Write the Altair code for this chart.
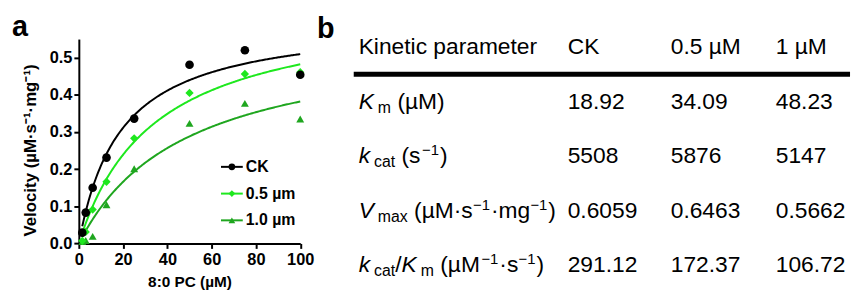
import altair as alt
import pandas as pd

# ---------------- data (panel a) ----------------
substrate = [1.5625, 3.125, 6.25, 12.5, 25, 50, 75, 100]
v_ck = [0.029, 0.083, 0.150, 0.231, 0.336, 0.481, 0.520, 0.454]
v_05 = [0.007, 0.031, 0.091, 0.166, 0.283, 0.405, 0.456, 0.461]
v_10 = [0.005, 0.008, 0.019, 0.104, 0.201, 0.323, 0.377, 0.335]
series = ["CK", "0.5 µm", "1.0 µm"]
colors = ["#000000", "#1ee81e", "#1fa61f"]
shapes = ["circle", "diamond", "triangle-up"]

# ---------------- data (panel b table) ----------------
col_headers = ["Kinetic parameter", "CK", "0.5 µM", "1 µM"]
km = [18.92, 34.09, 48.23]
kcat = [5508, 5876, 5147]
vmax = [0.6059, 0.6463, 0.5662]
kcat_km = [291.12, 172.37, 106.72]
row_labels = [
    [("K", "it"), ("m", "sub"), (" (µM)", "rm")],
    [("k", "it"), ("cat", "sub"), (" (s", "rm"), ("−1", "sup"), (")", "rm")],
    [("V", "it"), ("max", "sub"), (" (µM·s", "rm"), ("−1", "sup"), ("·mg", "rm"), ("−1", "sup"), (")", "rm")],
    [("k", "it"), ("cat", "sub"), ("/", "rm"), ("K", "it"), ("m", "sub"), (" (µM", "rm"), ("−1", "sup"), ("·s", "rm"), ("−1", "sup"), (")", "rm")],
]
row_values = [
    [f"{v:.2f}" for v in km],
    [f"{v:d}" for v in kcat],
    [f"{v:.4f}" for v in vmax],
    [f"{v:.2f}" for v in kcat_km],
]

# ---------------- layout ----------------
FONT = "Liberation Sans"
OX, OY = 79.5, 38.0          # page position of plot-area origin
PW, PH = 223.5, 206.3        # plot area size
TAB_FS, SUB_FS, SUP_FS = 23, 16, 15
COL_X = [362, 573, 677, 783]
HEAD_Y = 53
ROW_Y = [108.5, 163.5, 218.5, 273]
RULE_Y, RULE_X0, RULE_X1 = 73.5, 357, 858
LEG_X0, LEG_X1, LEG_XT = 223, 245, 248
LEG_Y0, LEG_DY = 167, 27

AW = {' ': 278, '(': 333, ')': 333, '/': 278, '·': 278, 'µ': 576, 'M': 833, 's': 500,
      'm': 833, 'g': 556, '−': 584, '1': 556, 'a': 556, 'c': 500, 't': 278, 'x': 500,
      'K': 667, 'k': 500, 'V': 667}


def text_w(t, size):
    return sum(AW.get(ch, 556) for ch in t) * size / 1000.0


sizes = {"it": TAB_FS, "rm": TAB_FS, "sub": SUB_FS, "sup": SUP_FS}
pieces = []
for r, parts in enumerate(row_labels):
    x = COL_X[0]
    for t, kind in parts:
        lead = len(t) - len(t.lstrip(" "))
        x += text_w(" " * lead, sizes[kind])
        t = t.lstrip(" ")
        if kind == "sup":
            x += 1.5
        pieces.append({"t": t, "kind": kind, "x": x, "y": ROW_Y[r]})
        x += text_w(t, sizes[kind])
        if kind == "it":
            x += 4
        if kind == "sup":
            x += 1
pieces_df = pd.DataFrame(pieces)

cells = []
for c, h in enumerate(col_headers):
    cells.append({"t": h, "x": COL_X[c], "y": HEAD_Y})
for r, vals in enumerate(row_values):
    for c, v in enumerate(vals):
        cells.append({"t": v, "x": COL_X[c + 1], "y": ROW_Y[r]})
cells_df = pd.DataFrame(cells)

panel_df = pd.DataFrame({"t": ["a", "b"], "x": [12, 320], "y": [35, 37]})
rule_df = pd.DataFrame({"x": [RULE_X0], "x2": [RULE_X1], "y": [RULE_Y]})
leg_df = pd.DataFrame({
    "series": series,
    "t": series,
    "x0": LEG_X0, "x1": LEG_X1, "xm": (LEG_X0 + LEG_X1) / 2, "xt": LEG_XT,
    "y": [LEG_Y0 + i * LEG_DY for i in range(len(series))],
})

pts = []
for name, vals in reversed(list(zip(series, [v_ck, v_05, v_10]))):
    for s, v in zip(substrate, vals):
        pts.append({"series": name, "S": s, "v": v})
pts_df = pd.DataFrame(pts)

# ---------------- scales ----------------
xs = alt.Scale(domain=[0, 100], nice=False, zero=False)
ys = alt.Scale(domain=[0, 0.55], nice=False)
cs = alt.Scale(domain=series, range=colors)
ss = alt.Scale(domain=series, range=shapes)
zs = alt.Scale(domain=series, range=[76, 64, 95])

common_axis = dict(labelFont=FONT, labelFontSize=16.5, labelFontWeight="bold",
                   labelColor="black", tickSize=5, tickWidth=2, tickColor="black",
                   domainColor="black", domainWidth=2, grid=False, labelFlush=False,
                   titleFont=FONT, titleFontWeight="bold", titleColor="black",
                   titleBaseline="alphabetic")
xaxis = alt.Axis(values=[0, 20, 40, 60, 80, 100], labelPadding=3, titleFontSize=15.5,
                 titleY=43, titleX=PW / 2, **common_axis)
yaxis = alt.Axis(values=[0, 0.1, 0.2, 0.3, 0.4, 0.5], format=".1f", labelPadding=2,
                 titleFontSize=17, titleX=-44, titleY=112, **common_axis)

# ---------------- panel a ----------------
S0, S1 = substrate[0], substrate[-1]
curves = (
    alt.Chart(alt.sequence(0, 201, 1, as_="i"))
    .transform_calculate(S=f"{S0} + datum.i * ({S1} - {S0}) / 200")
    .transform_calculate(
        c0=f"{vmax[0]} * datum.S / ({km[0]} + datum.S)",
        c1=f"{vmax[1]} * datum.S / ({km[1]} + datum.S)",
        c2=f"{vmax[2]} * datum.S / ({km[2]} + datum.S)",
    )
    .transform_fold(["c0", "c1", "c2"], as_=["key", "v"])
    .transform_calculate(series=f"{series}[toNumber(substring(datum.key, 1))]")
    .mark_line(strokeWidth=2)
    .encode(
        x=alt.X("S:Q", scale=xs, axis=xaxis, title="8:0 PC (µM)"),
        y=alt.Y("v:Q", scale=ys, axis=yaxis, title="Velocity (µM·s⁻¹·mg⁻¹)"),
        color=alt.Color("series:N", scale=cs, legend=None),
    )
)

points = alt.Chart(pts_df).mark_point(filled=True, opacity=1).encode(
    x=alt.X("S:Q", scale=xs),
    y=alt.Y("v:Q", scale=ys),
    color=alt.Color("series:N", scale=cs, legend=None),
    shape=alt.Shape("series:N", scale=ss, legend=None),
    size=alt.Size("series:N", scale=zs, legend=None),
)

panel_a = alt.layer(curves, points)

# ---------------- panel b (table) + legend ----------------
tx = alt.Scale(domain=[OX, OX + 1000], range=[0, 1000], zero=False, nice=False)
ty = alt.Scale(domain=[OY, OY + 1000], range=[0, 1000], zero=False, nice=False)


def txt(df, baseline="alphabetic", **mk):
    return alt.Chart(df).mark_text(align="left", baseline=baseline, font=FONT,
                                   color="black", **mk).encode(
        x=alt.X("x:Q", scale=tx, axis=None),
        y=alt.Y("y:Q", scale=ty, axis=None),
        text="t:N",
    )


cells_layer = txt(cells_df, fontSize=TAB_FS)
rm_layer = txt(pieces_df[pieces_df.kind == "rm"], fontSize=TAB_FS)
it_layer = txt(pieces_df[pieces_df.kind == "it"], fontSize=TAB_FS, fontStyle="italic")
sub_layer = txt(pieces_df[pieces_df.kind == "sub"], fontSize=SUB_FS, dy=4)
sup_layer = txt(pieces_df[pieces_df.kind == "sup"], fontSize=SUP_FS, dy=-8)
panel_labels = txt(panel_df, fontSize=29, fontWeight="bold")
rule_layer = alt.Chart(rule_df).mark_rule(strokeWidth=5, color="black").encode(
    x=alt.X("x:Q", scale=tx, axis=None),
    x2="x2:Q",
    y=alt.Y("y:Q", scale=ty, axis=None),
)

leg_lines = alt.Chart(leg_df).mark_rule(strokeWidth=2).encode(
    x=alt.X("x0:Q", scale=tx, axis=None), x2="x1:Q",
    y=alt.Y("y:Q", scale=ty, axis=None),
    color=alt.Color("series:N", scale=cs, legend=None),
)
leg_marks = alt.Chart(leg_df).mark_point(filled=True, opacity=1, size=46).encode(
    x=alt.X("xm:Q", scale=tx, axis=None),
    y=alt.Y("y:Q", scale=ty, axis=None),
    color=alt.Color("series:N", scale=cs, legend=None),
    shape=alt.Shape("series:N", scale=ss, legend=None),
)
leg_text = alt.Chart(leg_df).mark_text(align="left", baseline="middle", font=FONT,
                                       fontSize=16, fontWeight="bold", color="black").encode(
    x=alt.X("xt:Q", scale=tx, axis=None),
    y=alt.Y("y:Q", scale=ty, axis=None),
    text="t:N",
)

panel_b = alt.layer(cells_layer, rm_layer, it_layer, sub_layer, sup_layer, panel_labels,
                    rule_layer, leg_lines, leg_marks, leg_text)

chart = (
    alt.layer(panel_a, panel_b)
    .resolve_scale(x="independent", y="independent")
    .properties(
        width=PW,
        height=PH,
        autosize=alt.AutoSizeParams(type="none"),
        padding={"left": OX - 8, "top": OY - 8, "right": 853 - (OX - 8) - PW, "bottom": 287 - (OY - 8) - PH},
    )
    .configure_view(stroke=None)
)

chart.save("out.html", embed_options={"renderer": "svg", "actions": False})
